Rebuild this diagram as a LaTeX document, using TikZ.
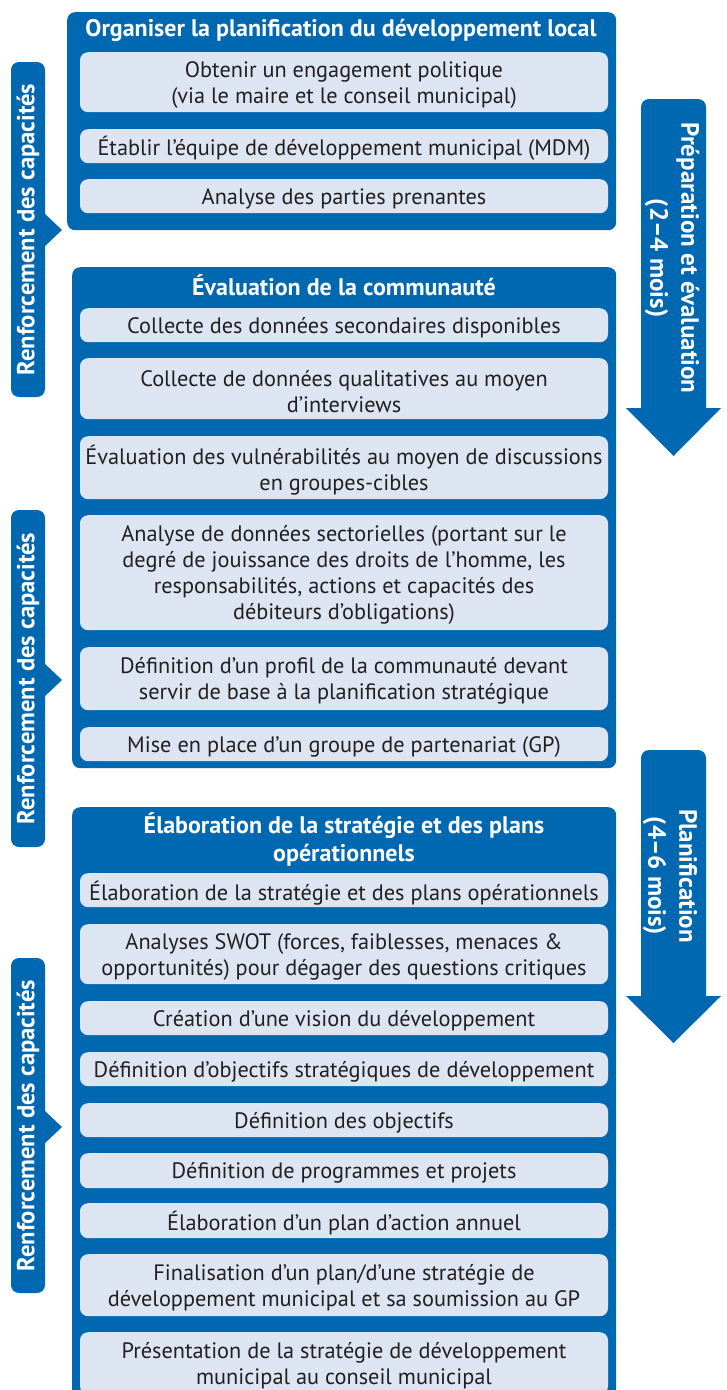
\documentclass[tikz,border=0pt]{standalone}
\usepackage{fontspec}
\setmainfont{PT Sans}
\usetikzlibrary{calc}
\definecolor{brand}{RGB}{0,103,177}
\definecolor{itemfill}{RGB}{222,229,242}
\definecolor{ink}{RGB}{35,31,32}

% one step: light box plus its centred text
\newcommand{\stepitem}[4]{%
  \node[stepbox, minimum height=#3pt] (#1) at (344,#2) {};
  \node[steptext] (#1-t) at ([yshift=-2.5pt]#1.center) {#4};
}

\begin{document}
\begin{tikzpicture}[x=1pt,y=-1pt,
  panel/.style={fill=brand, rounded corners=8pt, anchor=north west, inner sep=0pt},
  stepbox/.style={fill=itemfill, rounded corners=8pt, minimum width=528pt, inner sep=0pt, anchor=north},
  steptext/.style={align=center, text=ink, inner sep=0pt, font=\fontsize{22.3}{26}\selectfont},
  ptitle/.style={text=white, font=\bfseries\fontsize{24}{28}\selectfont, align=center, inner sep=0pt},
  sidebar/.style={fill=brand, rounded corners=8pt, rotate=90, minimum height=34pt, inner sep=0pt,
    text=white, font=\bfseries\fontsize{24.6}{28}\selectfont},
  phase/.style={rotate=-90, text=white, align=center, inner sep=0pt,
    font=\bfseries\fontsize{25}{31}\selectfont}
]
\useasboundingbox (0,0) rectangle (726,1390);
\clip (0,0) rectangle (726,1390);

% ---------- phase panels ----------
\node[panel, minimum width=549pt, minimum height=218pt] (pan1) at (67,12) {};
\node[panel, minimum width=544pt, minimum height=501pt] (pan2) at (72,267) {};
\node[panel, minimum width=544pt, minimum height=640pt] (pan3) at (72,807) {};

\node[ptitle] (t1) at (341,30) {Organiser la planification du développement local};
\node[ptitle] (t2) at (344,285) {Évaluation de la communauté};
\node[ptitle] (t3) at (344,839) {Élaboration de la stratégie et des plans\\opérationnels};

% ---------- steps of panel 1 ----------
\stepitem{a1}{52}{60}{Obtenir un engagement politique\\(via le maire et le conseil municipal)}
\stepitem{a2}{129}{34}{Établir l’équipe de développement municipal (MDM)}
\stepitem{a3}{179}{34}{Analyse des parties prenantes}

% ---------- steps of panel 2 ----------
\stepitem{b1}{308}{34}{Collecte des données secondaires disponibles}
\stepitem{b2}{358}{61}{Collecte de données qualitatives au moyen\\d’interviews}
\stepitem{b3}{436}{63}{Évaluation des vulnérabilités au moyen de discussions\\en groupes-cibles}
\stepitem{b4}{515}{115}{Analyse de données sectorielles (portant sur le\\degré de jouissance des droits de l’homme, les\\responsabilités, actions et capacités des\\débiteurs d’obligations)}
\stepitem{b5}{647}{63}{Définition d’un profil de la communauté devant\\servir de base à la planification stratégique}
\stepitem{b6}{727}{34}{Mise en place d’un groupe de partenariat (GP)}

% ---------- steps of panel 3 ----------
\stepitem{c1}{873}{34}{Élaboration de la stratégie et des plans opérationnels}
\stepitem{c2}{924}{60}{Analyses SWOT (forces, faiblesses, menaces \&\\opportunités) pour dégager des questions critiques}
\stepitem{c3}{1001}{34}{Création d’une vision du développement}
\stepitem{c4}{1052}{34}{Définition d’objectifs stratégiques de développement}
\stepitem{c5}{1103}{34}{Définition des objectifs}
\stepitem{c6}{1153}{35}{Définition de programmes et projets}
\stepitem{c7}{1203}{35}{Élaboration d’un plan d’action annuel}
\stepitem{c8}{1254}{62}{Finalisation d’un plan/d’une stratégie de\\développement municipal et sa soumission au GP}
\stepitem{c9}{1332}{62}{Présentation de la stratégie de développement\\municipal au conseil municipal}

% ---------- capacity-building side bars with notch ----------
\node[sidebar, minimum width=335pt] (s1) at (28,229.5) {Renforcement des capacités};
\node[sidebar, minimum width=337pt] (s2) at (28,678.5) {Renforcement des capacités};
\node[sidebar, minimum width=335pt] (s3) at (28,1125.5) {Renforcement des capacités};
\fill[brand] (44,213) -- (62,230) -- (44,247) -- cycle;
\fill[brand] (44,663) -- (62,680) -- (44,697) -- cycle;
\fill[brand] (44,1110) -- (62,1127) -- (44,1144) -- cycle;

% ---------- timeline arrows ----------
\fill[brand] (673.5,456) -- (626,408) -- (641,408) -- (641,107)
  arc[start angle=180, end angle=270, radius=8] -- (698,99)
  arc[start angle=270, end angle=360, radius=8] -- (706,408) -- (721,408) -- cycle;
\fill[brand] (673.5,1043) -- (626,996) -- (641,996) -- (641,758)
  arc[start angle=180, end angle=270, radius=8] -- (698,750)
  arc[start angle=270, end angle=360, radius=8] -- (706,996) -- (721,996) -- cycle;

\node[phase] (ph1) at (672,258) {Préparation et évaluation\\(2–4 mois)};
\node[phase] (ph2) at (670,876) {Planification\\(4–6 mois)};
\end{tikzpicture}
\end{document}
